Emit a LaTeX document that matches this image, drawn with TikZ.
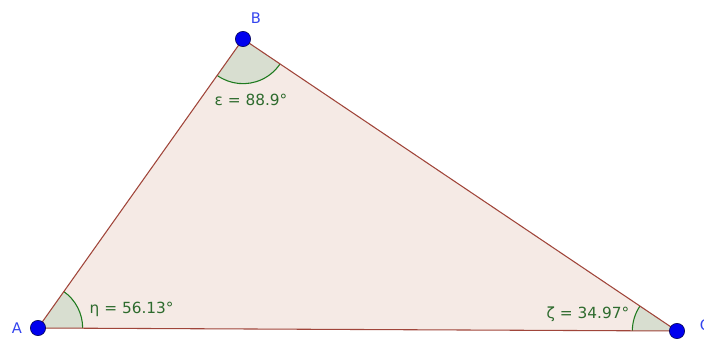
\documentclass[tikz,border=0pt]{standalone}
\usepackage{fontspec}
\setmainfont{DejaVu Sans}
\usetikzlibrary{angles}
\definecolor{trifill}{HTML}{F5EAE5}
\definecolor{edgecol}{HTML}{A0453A}
\definecolor{angfill}{HTML}{D8DED0}
\definecolor{angcol}{HTML}{1E7A1E}
\definecolor{txtgreen}{HTML}{2E6B2E}
\definecolor{ptblue}{HTML}{0000EE}
\definecolor{lblblue}{HTML}{3344EE}
\begin{document}
\begin{tikzpicture}[x=0.75pt,y=0.75pt,
  pt/.style={circle,fill=ptblue,draw=black!70!blue,line width=0.4pt,inner sep=0pt,minimum size=11.5pt},
  plabel/.style={text=lblblue,font=\fontsize{11}{13}\selectfont},
  alabel/.style={text=txtgreen,font=\fontsize{11.5}{13}\selectfont,anchor=west},
  ang/.style={draw=angcol,fill=angfill,line width=0.8pt,angle radius=33.5pt}]
\useasboundingbox (0,0) rectangle (704,340);
\coordinate (A) at (38,12);
\coordinate (B) at (243,301);
\coordinate (C) at (677,9);
\fill[trifill] (A) -- (B) -- (C) -- cycle;
\pic[ang] {angle = C--A--B};
\pic[ang] {angle = A--B--C};
\pic[ang] {angle = B--C--A};
\draw[edgecol,line width=0.8pt] (A) -- (B) -- (C) -- cycle;
\node[pt] (pA) at (A) {};
\node[pt] (pB) at (B) {};
\node[pt] (pC) at (C) {};
\node[plabel] (lA) at (17,12) {A};
\node[plabel] (lB) at (256,322) {B};
\node[plabel] (lC) at (705,15) {C};
\node[alabel] (eta) at (85,31) {η = 56.13°};
\node[alabel] (eps) at (210,240) {ε = 88.9°};
\node[alabel] (zeta) at (542,26) {ζ = 34.97°};
\end{tikzpicture}
\end{document}
